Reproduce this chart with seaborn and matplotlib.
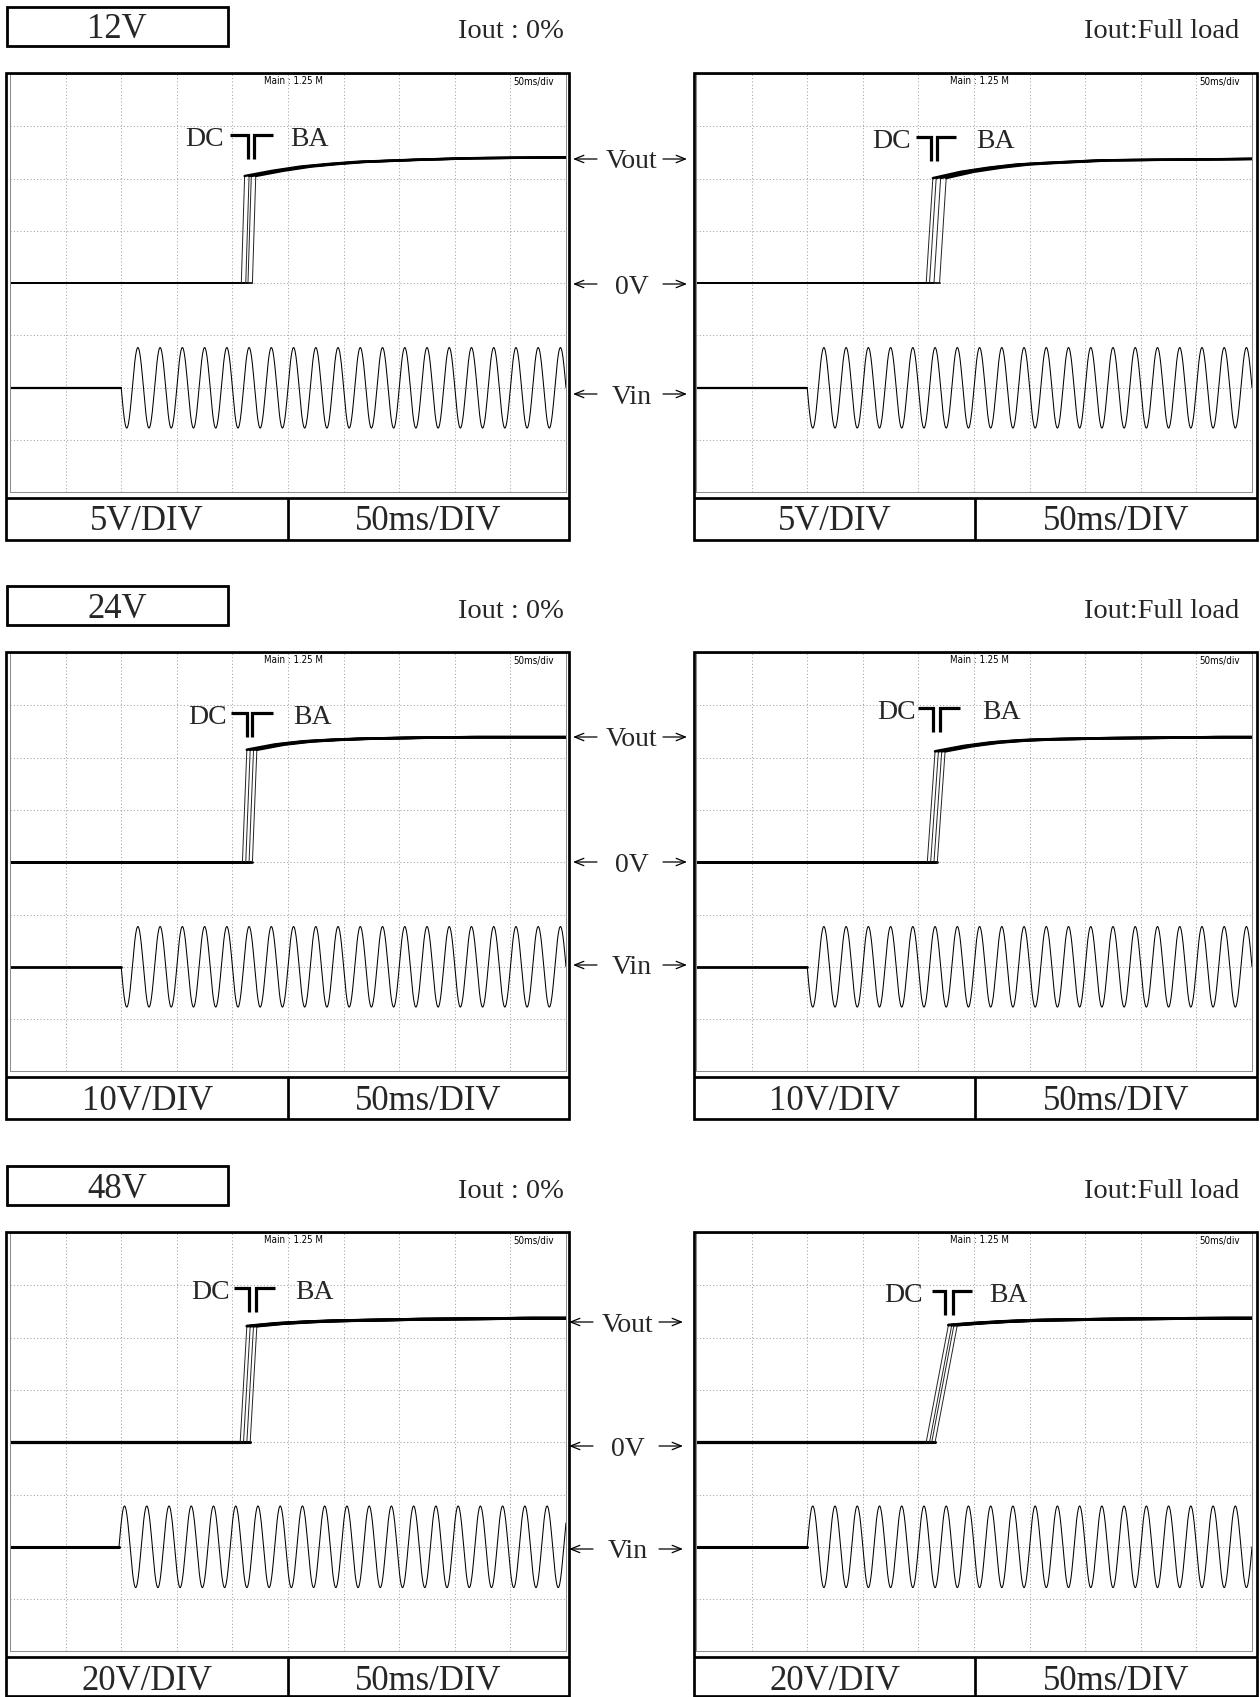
import numpy as np
import pandas as pd
import matplotlib
matplotlib.use("Agg")
import matplotlib.pyplot as plt
from matplotlib.patches import Rectangle
import seaborn as sns

# ---------------- chart values ----------------
ROW_TITLES = ["12V", "24V", "48V"]
VOLT_DIV_LABELS = ["5V/DIV", "10V/DIV", "20V/DIV"]
TIME_DIV_LABEL = "50ms/DIV"
LOAD_LABELS = ["Iout : 0%", "Iout:Full load"]
CHANNEL_LABELS = ["Vout", "0V", "Vin"]
SCOPE_MAIN_TEXT = "Main : 1.25 M"
SCOPE_TDIV_TEXT = "50ms/div"
GROUP_LABELS = ["DC", "BA"]
TRACE_IDS = ["D", "C", "B", "A"]

# panels in reading order: 12V 0%, 12V full, 24V 0%, 24V full, 48V 0%, 48V full
# time in ms (50 ms/div, 10 div), level in screen divisions (0V trace at 0)
RISE_START_MS = [
    [208, 212, 214, 218],
    [207, 210, 214, 219],
    [209, 212, 215, 218],
    [208, 211, 214, 217],
    [207, 210, 213, 216],
    [207, 210, 212, 215],
]
RISE_TIME_MS = [3, 6, 4, 7, 6, 20]
SETTLE_AFTER_MS = [0, 25, 50, 75, 100, 150, 200, 250, 300]
SETTLE_LEVEL_DIV = [
    [2.05, 2.15, 2.23, 2.28, 2.32, 2.36, 2.39, 2.40, 2.41],
    [2.01, 2.13, 2.21, 2.27, 2.30, 2.35, 2.36, 2.37, 2.38],
    [2.15, 2.25, 2.31, 2.34, 2.36, 2.38, 2.39, 2.39, 2.39],
    [2.12, 2.22, 2.29, 2.33, 2.35, 2.37, 2.38, 2.39, 2.39],
    [2.22, 2.27, 2.30, 2.32, 2.33, 2.35, 2.36, 2.37, 2.37],
    [2.24, 2.28, 2.31, 2.33, 2.34, 2.355, 2.365, 2.37, 2.37],
]
VIN_OFFSET_DIV = -2.0
VIN_START_MS = [100, 100, 100, 100, 98, 100]
VIN_AMPLITUDE_DIV = [0.77, 0.77, 0.77, 0.77, 0.78, 0.78]
VIN_FREQ_HZ = 50
VIN_FIRST_SWING = [-1, -1, -1, -1, 1, 1]

# ---------------- layout (pixels of the 1260x1697 canvas) ----------------
W, H = 1260, 1697
ROW_OFF = [0, 579, 1159]
SCREEN_X = [10, 696]
SCREEN_W = 556
SCREEN_TOP = 74
SCREEN_H = 418.4
FRAME_L = [6.3, 694.2]
FRAME_R = [568.7, 1256.8]
FRAME_TOP = 73
FRAME_SEP = 498
FRAME_BOT = 540
FRAME_DIV = [288, 975.3]
LABEL_Y = [[159, 284, 394], [158, 283, 386], [163, 287, 390]]
LABEL_DX = [0, 0, -4]
TEXT_DY = 3  # visual centring correction for serif labels

FLAT_LW = [1.2, 2.0, 2.2]
SETTLE_LW = [1.7, 1.9, 2.1]
VIN_FLAT_LW = [1.6, 2.0, 2.2]

ANN_DC_X = [174.5, 175.6, 178, 180, 180, 187]
ANN_BA_X = [268.9, 269.6, 272.3, 275, 273.4, 280.9]
ANN_BL = [(197.8, 214.3), (197.8, 211), (198.4, 213), (199.6, 213), (201, 215), (212, 224)]
ANN_BR = [(219.4, 236.8), (216.5, 233.5), (217.8, 236.3), (219, 237.4), (220.8, 238.3), (230.8, 248)]
ANN_Y = [2.84, 2.79, 2.85, 2.95, 2.95, 2.90]
ANN_DROP = 0.46
ANN_TEXT_DY = -0.09

SERIF = ["Liberation Serif", "DejaVu Serif"]

sns.set_theme(style="white")
plt.rcParams["font.family"] = SERIF
plt.rcParams["axes.unicode_minus"] = False

fig = plt.figure(figsize=(W / 100, H / 100), dpi=100)
fig.patch.set_facecolor("white")


def panel_frames(p):
    flat, rise, settle = [], [], []
    for k, t0 in enumerate(RISE_START_MS[p]):
        t1 = t0 + RISE_TIME_MS[p]
        name = TRACE_IDS[k]
        flat += [(name, 0, 0.0), (name, t0, 0.0)]
        rise += [(name, t0, 0.0), (name, t1, SETTLE_LEVEL_DIV[p][0])]
        for dt, lv in zip(SETTLE_AFTER_MS, SETTLE_LEVEL_DIV[p]):
            settle.append((name, t1 + dt, lv))
    cols = ["trace", "t", "v"]
    return (pd.DataFrame(flat, columns=cols), pd.DataFrame(rise, columns=cols),
            pd.DataFrame(settle, columns=cols))


def vin_frames(p):
    t0 = VIN_START_MS[p]
    flat = pd.DataFrame({"t": [0, t0], "v": [VIN_OFFSET_DIV] * 2})
    t = np.arange(t0, 500.01, 0.25)
    v = VIN_OFFSET_DIV + VIN_FIRST_SWING[p] * VIN_AMPLITUDE_DIV[p] * np.sin(
        2 * np.pi * VIN_FREQ_HZ * (t - t0) / 1000.0)
    return flat, pd.DataFrame({"t": t, "v": v})


for r in range(3):
    for c in range(2):
        p = r * 2 + c
        top = SCREEN_TOP + ROW_OFF[r]
        ax = fig.add_axes([SCREEN_X[c] / W, 1 - (top + SCREEN_H) / H,
                           SCREEN_W / W, SCREEN_H / H])
        ax.set_xlim(0, 500)
        ax.set_ylim(-4, 4)
        ax.set_xticks(np.arange(0, 501, 50))
        ax.set_yticks(np.arange(-4, 5, 1))
        ax.grid(True, color="#a3a3a3", lw=0.75, ls=(0, (1, 2.2)))
        ax.tick_params(length=0, labelleft=False, labelbottom=False)
        for s in ax.spines.values():
            s.set_color("#8a8a8a")
            s.set_linewidth(0.7)
        ax.set_facecolor("white")

        flat, rise, settle = panel_frames(p)
        sns.lineplot(data=flat, x="t", y="v", units="trace", estimator=None,
                     color="black", lw=FLAT_LW[r], ax=ax, legend=False, sort=False)
        sns.lineplot(data=rise, x="t", y="v", units="trace", estimator=None,
                     color="#222222", lw=0.7, ax=ax, legend=False, sort=False)
        sns.lineplot(data=settle, x="t", y="v", units="trace", estimator=None,
                     color="black", lw=SETTLE_LW[r], ax=ax, legend=False, sort=False)
        vflat, vsine = vin_frames(p)
        sns.lineplot(data=vflat, x="t", y="v", estimator=None, color="black",
                     lw=VIN_FLAT_LW[r], ax=ax, legend=False, sort=False)
        sns.lineplot(data=vsine, x="t", y="v", estimator=None, color="black",
                     lw=0.75, ax=ax, legend=False, sort=False)
        ax.set_xlabel("")
        ax.set_ylabel("")
        ax.set_xlim(0, 500)
        ax.set_ylim(-4, 4)

        # scope header texts
        ax.text(0.509, 0.984, SCOPE_MAIN_TEXT, transform=ax.transAxes,
                ha="center", va="center", fontsize=7, family="DejaVu Sans",
                fontstretch="condensed", color="black")
        ax.text(0.979, 0.981, SCOPE_TDIV_TEXT, transform=ax.transAxes,
                ha="right", va="center", fontsize=7, family="DejaVu Sans",
                fontstretch="condensed", color="black")

        # DC / BA annotation
        y0 = ANN_Y[p]
        ax.text(ANN_DC_X[p], y0 + ANN_TEXT_DY, GROUP_LABELS[0], ha="center",
                va="center", fontsize=20, family=SERIF)
        ax.text(ANN_BA_X[p], y0 + ANN_TEXT_DY, GROUP_LABELS[1], ha="center",
                va="center", fontsize=20, family=SERIF)
        bl0, bl1 = ANN_BL[p]
        br0, br1 = ANN_BR[p]
        ax.plot([bl0, bl1, bl1], [y0, y0, y0 - ANN_DROP], color="black",
                lw=2.3, solid_joinstyle="miter", solid_capstyle="butt")
        ax.plot([br0, br0, br1], [y0 - ANN_DROP, y0, y0], color="black",
                lw=2.3, solid_joinstyle="miter", solid_capstyle="butt")

# ---------------- overlay: boxes, frames, labels ----------------
ov = fig.add_axes([0, 0, 1, 1], zorder=10)
ov.set_xlim(0, W)
ov.set_ylim(H, 0)
ov.axis("off")
ov.patch.set_alpha(0)


def arrow(x_tail, x_head, y):
    ov.annotate("", xy=(x_head, y), xytext=(x_tail, y),
                arrowprops=dict(arrowstyle="->,head_length=0.55,head_width=0.22",
                                lw=0.9, color="black", shrinkA=0, shrinkB=0))


for r in range(3):
    off = ROW_OFF[r]
    # title box
    ov.add_patch(Rectangle((6.5, 6.5 + off), 221.5, 39.5, fill=False,
                           ec="black", lw=2.0))
    ov.text(117, 27 + off + TEXT_DY, ROW_TITLES[r], ha="center", va="center",
            fontsize=25, family=SERIF)
    ov.text(511, 29 + off + TEXT_DY, LOAD_LABELS[0], ha="center", va="center",
            fontsize=20.5, family=SERIF)
    ov.text(1239, 29 + off + TEXT_DY, LOAD_LABELS[1], ha="right", va="center",
            fontsize=20.5, family=SERIF)
    for c in range(2):
        top = FRAME_TOP + off
        bot = min(FRAME_BOT + off, H - 1.5)
        ov.add_patch(Rectangle((FRAME_L[c], top), FRAME_R[c] - FRAME_L[c],
                               bot - top, fill=False, ec="black", lw=1.95))
        ov.plot([FRAME_L[c], FRAME_R[c]], [FRAME_SEP + off] * 2, color="black",
                lw=1.95, solid_capstyle="butt")
        ov.plot([FRAME_DIV[c]] * 2, [FRAME_SEP + off, bot], color="black",
                lw=1.95, solid_capstyle="butt")
        ymid = (FRAME_SEP + FRAME_BOT) / 2 + off + TEXT_DY
        ov.text((FRAME_L[c] + FRAME_DIV[c]) / 2, ymid, VOLT_DIV_LABELS[r],
                ha="center", va="center", fontsize=25, family=SERIF)
        ov.text((FRAME_DIV[c] + FRAME_R[c]) / 2, ymid, TIME_DIV_LABEL,
                ha="center", va="center", fontsize=25, family=SERIF)
    # channel labels between the two screens
    for i, lab in enumerate(CHANNEL_LABELS):
        y = LABEL_Y[r][i] + off
        dx = LABEL_DX[r]
        arrow(597 + dx, 573 + dx, y)
        ov.text(632 + dx, y + TEXT_DY, lab, ha="center", va="center",
                fontsize=20, family=SERIF)
        arrow(663 + dx, 687 + dx, y)

fig.savefig("out.png", dpi=100, facecolor="white")
